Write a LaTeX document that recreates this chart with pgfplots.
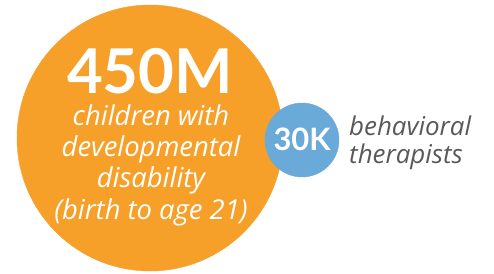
\documentclass[border=0pt]{standalone}
\usepackage{pgfplots}
\pgfplotsset{compat=1.18}
\usepackage{fontspec}
\setmainfont{Lato}
\newfontfamily\itfont{Open Sans}
\definecolor{orng}{HTML}{F69F29}
\definecolor{blu}{HTML}{6AAAD9}
\definecolor{txt}{HTML}{58595B}
\begin{document}
\begin{tikzpicture}
\begin{axis}[width=494bp,height=274bp,scale only axis,hide axis,
  xmin=0,xmax=494,ymin=0,ymax=274,y dir=reverse,clip=false]
\addplot[only marks, mark=*, mark size=133bp, color=orng, mark options={draw=orng,fill=orng}] coordinates {(150,138)};
\addplot[only marks, mark=*, mark size=37bp, color=blu, mark options={draw=blu,fill=blu}] coordinates {(302,140)};
\coordinate (t0) at (axis cs:150,94);
\coordinate (t1) at (axis cs:151,126);
\coordinate (t2) at (axis cs:151,157);
\coordinate (t3) at (axis cs:151,188);
\coordinate (t4) at (axis cs:151,220);
\coordinate (b0) at (axis cs:302,151);
\coordinate (b1) at (axis cs:349,136);
\coordinate (b2) at (axis cs:349,164);
\end{axis}
\node[inner sep=0,anchor=base,text=white,font=\fontsize{62}{62}\selectfont\bfseries] at (t0) {450M};
\node[inner sep=0,anchor=base,text=white,font=\fontsize{27.5}{27.5}\selectfont\itfont\itshape] at (t1) {children with};
\node[inner sep=0,anchor=base,text=white,font=\fontsize{27.5}{27.5}\selectfont\itfont\itshape] at (t2) {developmental};
\node[inner sep=0,anchor=base,text=white,font=\fontsize{27.5}{27.5}\selectfont\itfont\itshape] at (t3) {disability};
\node[inner sep=0,anchor=base,text=white,font=\fontsize{27.5}{27.5}\selectfont\itfont\itshape] at (t4) {(birth to age 21)};
\node[inner sep=0,anchor=base,text=white,font=\fontsize{31}{31}\selectfont\bfseries] at (b0) {30K};
\node[inner sep=0,anchor=base west,text=txt,font=\fontsize{26}{26}\selectfont\itfont\itshape] at (b1) {behavioral};
\node[inner sep=0,anchor=base west,text=txt,font=\fontsize{26}{26}\selectfont\itfont\itshape] at (b2) {therapists};
\pgfresetboundingbox
\path[use as bounding box] (current axis.south west) rectangle (current axis.north east);
\end{tikzpicture}
\end{document}
